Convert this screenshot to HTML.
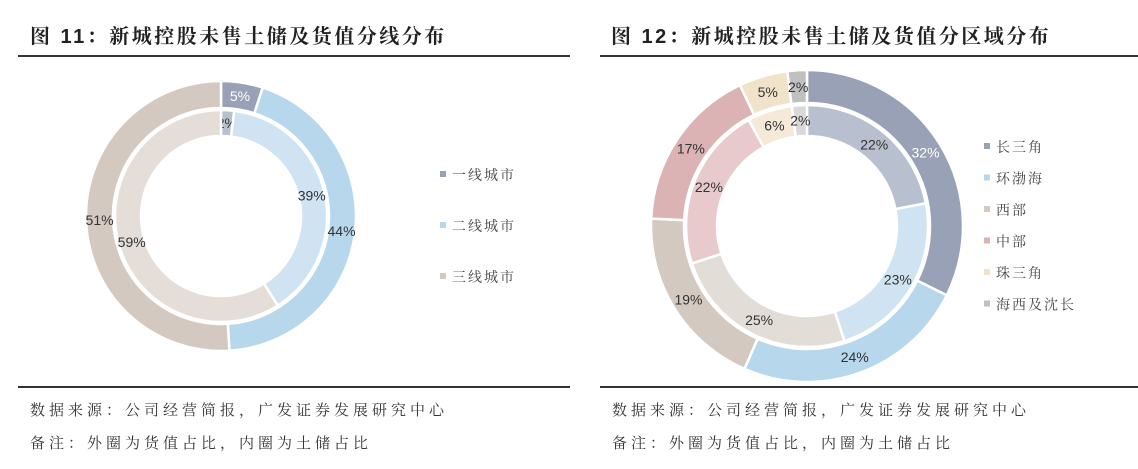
<!DOCTYPE html>
<html><head><meta charset="utf-8"><style>
body{margin:0;background:#fff;width:1138px;height:469px;overflow:hidden;font-family:"Liberation Sans","Noto Sans CJK SC",sans-serif;}
.t{position:absolute;font-weight:bold;font-size:20px;color:#222;top:20px;letter-spacing:2.5px;font-family:"Liberation Sans","Noto Serif CJK SC",serif;}
.rule{position:absolute;height:2px;background:#333;}
.rule2{position:absolute;height:1.5px;background:#333;}
.note{position:absolute;font-size:15px;color:#333;letter-spacing:4px;font-family:"Liberation Serif","Noto Serif CJK SC",serif;}
</style></head><body>
<div class="t" style="left:30px">图 11：新城控股未售土储及货值分线分布</div>
<div class="t" style="left:611px">图 12：新城控股未售土储及货值分区域分布</div>
<div class="rule" style="left:18px;width:552px;top:55px"></div>
<div class="rule" style="left:600px;width:538px;top:55px"></div>
<div class="rule2" style="left:18px;width:552px;top:386px"></div>
<div class="rule2" style="left:600px;width:538px;top:386px"></div>
<div class="note" style="left:30px;top:399px">数据来源：公司经营简报，广发证券发展研究中心</div>
<div class="note" style="left:30px;top:432px">备注：外圈为货值占比，内圈为土储占比</div>
<div class="note" style="left:612px;top:399px">数据来源：公司经营简报，广发证券发展研究中心</div>
<div class="note" style="left:612px;top:432px">备注：外圈为货值占比，内圈为土储占比</div>
<svg id="chart" width="1138" height="469" style="position:absolute;left:0;top:0"></svg>
<script>
const leftCats=["一线城市","二线城市","三线城市"];
const leftOuter=[5,44,51];
const leftInner=[2,39,59];
const leftOuterColors=["#98a1b5","#b7d7ec","#d4c9c1"];
const leftInnerColors=["#b8bfcd","#cfe3f2","#e4ddd8"];
const rightCats=["长三角","环渤海","西部","中部","珠三角","海西及沈长"];
const rightOuter=[32,24,19,17,5,2];
const rightInner=[22,23,25,22,6,2];
const rightOuterColors=["#98a1b5","#b7d7ec","#d4c9c1","#dbb3b5","#f1e3c9","#c0c0c0"];
const rightInnerColors=["#b8bfce","#cfe3f2","#e3ddd8","#e8cacc","#f5ead8","#d9d9d9"];
const NS="http://www.w3.org/2000/svg";
const svg=document.getElementById('chart');
function pt(cx,cy,r,a){return [cx+r*Math.sin(a),cy-r*Math.cos(a)];}
function ring(cx,cy,r0,r1,vals,cols,name,whiteIdx){
  const tot=vals.reduce((a,b)=>a+b,0);let acc=0;
  vals.forEach((v,i)=>{
    const a0=acc/tot*2*Math.PI, a1=(acc+v)/tot*2*Math.PI; acc+=v;
    const p1=pt(cx,cy,r1,a0),p2=pt(cx,cy,r1,a1),p3=pt(cx,cy,r0,a1),p4=pt(cx,cy,r0,a0);
    const lg=(a1-a0)>Math.PI?1:0;
    const path=document.createElementNS(NS,'path');
    path.setAttribute('d',`M${p1}A${r1},${r1} 0 ${lg} 1 ${p2}L${p3}A${r0},${r0} 0 ${lg} 0 ${p4}Z`);
    path.setAttribute('fill',cols[i]);path.setAttribute('stroke','#fff');path.setAttribute('stroke-width','2.5');
    
    
    svg.appendChild(path);
    const m=(a0+a1)/2,lp=pt(cx,cy,(r0+r1)/2,m);
    const t=document.createElementNS(NS,'text');
    t.setAttribute('x',lp[0]);t.setAttribute('y',lp[1]+5);t.setAttribute('text-anchor','middle');
    t.setAttribute('font-size','14');t.setAttribute('font-family','Liberation Sans, sans-serif');
    t.setAttribute('fill',whiteIdx.includes(i)?'#fff':'#333');
    t.textContent=v+'%';
    
    
    svg.appendChild(t);
  });
}
function legend(x,y0,dy,cats,cols,name){
  cats.forEach((c,i)=>{
    const r=document.createElementNS(NS,'rect');
    r.setAttribute('x',x);r.setAttribute('y',y0+i*dy-4);r.setAttribute('width',6);r.setAttribute('height',6);r.setAttribute('fill',cols[i]);
    
    
    svg.appendChild(r);
    const t=document.createElementNS(NS,'text');
    t.setAttribute('x',x+12);t.setAttribute('y',y0+i*dy+5);t.setAttribute('font-size','14');t.setAttribute('fill','#444');
    t.setAttribute('letter-spacing','2');
    t.setAttribute('font-family','Liberation Serif, Noto Serif CJK SC, serif');
    t.textContent=c;
    
    
    svg.appendChild(t);
  });
}
ring(221,216,108,135,leftOuter,leftOuterColors,'left-outer',[0]);
ring(221,216,80,106,leftInner,leftInnerColors,'left-inner',[]);
ring(807,226,123,156,rightOuter,rightOuterColors,'right-outer',[0]);
ring(807,226,90,121,rightInner,rightInnerColors,'right-inner',[]);
legend(440,175,51,leftCats,leftOuterColors,'left-legend');
legend(984,147,31.5,rightCats,rightOuterColors,'right-legend');
</script>
</body></html>
